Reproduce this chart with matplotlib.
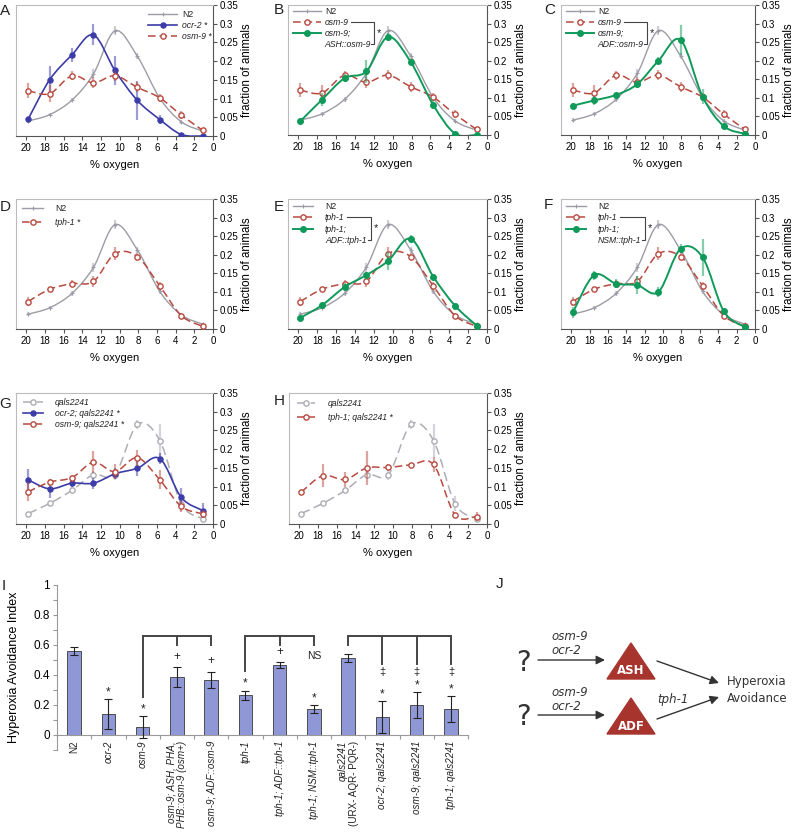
import numpy as np
import matplotlib
matplotlib.use('Agg')
import matplotlib.pyplot as plt
from matplotlib import font_manager
from matplotlib.path import Path
from matplotlib.patches import PathPatch, Polygon
from matplotlib.transforms import blended_transform_factory

W, H = 795, 833
plt.rcParams['font.family'] = ['Liberation Sans', 'DejaVu Sans']
plt.rcParams['text.color'] = '#222222'

installed = {f.name for f in font_manager.fontManager.ttflist}
if 'Liberation Sans Narrow' in installed:
    LEGFONT, LEGSIZE = 'Liberation Sans Narrow', 7.5
else:
    LEGFONT, LEGSIZE = 'Liberation Sans', 6.2

# % oxygen bins
o2 = [19.8, 17.5, 15.1, 12.8, 10.5, 8.1, 5.7, 3.4, 1.1]

n2 = [0.040, 0.057, 0.096, 0.166, 0.281, 0.213, 0.101, 0.038, 0.013]
n2_err = [0.005, 0.004, 0.006, 0.012, 0.012, 0.008, 0.006, 0.005, 0.004]
ocr2 = [0.045, 0.150, 0.217, 0.270, 0.175, 0.095, 0.044, 0.004, 0.0]
ocr2_err = [0.006, 0.038, 0.018, 0.028, 0.040, 0.052, 0.012, 0.003, 0.002]
osm9 = [0.121, 0.113, 0.161, 0.142, 0.161, 0.130, 0.102, 0.056, 0.015]
osm9_err = [0.020, 0.022, 0.012, 0.015, 0.013, 0.013, 0.010, 0.010, 0.004]
osm9_ash = [0.037, 0.095, 0.153, 0.171, 0.264, 0.197, 0.081, 0.004, 0.0]
osm9_ash_err = [0.004, 0.018, 0.010, 0.030, 0.010, 0.008, 0.012, 0.003, 0.002]
osm9_adf = [0.079, 0.093, 0.108, 0.137, 0.200, 0.256, 0.103, 0.024, 0.003]
osm9_adf_err = [0.006, 0.012, 0.006, 0.010, 0.010, 0.040, 0.020, 0.004, 0.002]
tph1 = [0.074, 0.107, 0.122, 0.128, 0.203, 0.195, 0.116, 0.036, 0.007]
tph1_err = [0.012, 0.005, 0.010, 0.015, 0.018, 0.010, 0.010, 0.004, 0.003]
tph1_adf = [0.030, 0.064, 0.113, 0.145, 0.183, 0.243, 0.141, 0.063, 0.009]
tph1_adf_err = [0.005, 0.006, 0.010, 0.008, 0.025, 0.010, 0.006, 0.004, 0.003]
tph1_nsm = [0.045, 0.145, 0.122, 0.118, 0.100, 0.216, 0.193, 0.048, 0.005]
tph1_nsm_err = [0.015, 0.012, 0.012, 0.025, 0.013, 0.012, 0.050, 0.008, 0.003]
qals = [0.028, 0.055, 0.090, 0.132, 0.132, 0.266, 0.223, 0.054, 0.014]
qals_err = [0.004, 0.005, 0.008, 0.010, 0.015, 0.012, 0.045, 0.020, 0.005]
ocr2_qals = [0.118, 0.094, 0.109, 0.109, 0.134, 0.149, 0.175, 0.071, 0.036]
ocr2_qals_err = [0.030, 0.025, 0.010, 0.015, 0.015, 0.020, 0.015, 0.025, 0.020]
osm9_qals = [0.086, 0.112, 0.124, 0.165, 0.140, 0.177, 0.118, 0.047, 0.027]
osm9_qals_err = [0.025, 0.008, 0.008, 0.030, 0.020, 0.022, 0.025, 0.015, 0.010]
tph1_qals = [0.085, 0.129, 0.119, 0.150, 0.151, 0.158, 0.159, 0.024, 0.020]
tph1_qals_err = [0.005, 0.030, 0.020, 0.045, 0.008, 0.006, 0.020, 0.005, 0.012]

# panel I
bar_names = ['N2', 'ocr-2', 'osm-9', 'osm-9; ASH, PHA,\nPHB::osm-9 (osm+)',
             'osm-9; ADF::osm-9', 'tph-1', 'tph-1; ADF::tph-1', 'tph-1; NSM::tph-1',
             'qals2241\n(URX- AQR- PQR-)', 'ocr-2; qals2241', 'osm-9; qals2241',
             'tph-1; qals2241']
bar_vals = [0.556, 0.139, 0.053, 0.384, 0.364, 0.265, 0.464, 0.172, 0.510, 0.119, 0.200, 0.172]
bar_errs = [0.027, 0.097, 0.070, 0.065, 0.055, 0.030, 0.020, 0.025, 0.025, 0.105, 0.087, 0.085]
bar_star = ['', '*', '*', '', '', '*', '', '*', '', '*', '*', '*']
bar_vs_parent = ['', '', '', '+', '+', '', '+', 'NS', '', '\u2021', '\u2021', '\u2021']
brackets = [(2, [3, 4]), (5, [6, 7]), (8, [9, 10, 11])]

N2 = dict(c='#9c9ca6', lw=1.0, ls='-', m='+', ms=3.5, mfc='#9c9ca6', mew=0.8, z=2)
BLUE = dict(c='#3c3ca8', lw=1.2, ls='-', m='o', ms=3.8, mfc='#3c3ca8', mew=0.8, z=3)
RED = dict(c='#b84a40', lw=1.1, ls=(0, (5, 2.5)), m='o', ms=3.8, mfc='white', mew=1.0, z=4)
GREEN = dict(c='#0f9a5a', lw=1.4, ls='-', m='o', ms=4.2, mfc='#0f9a5a', mew=0.8, z=5)
QALS = dict(c='#adadb5', lw=1.1, ls=(0, (6, 3)), m='o', ms=3.8, mfc='white', mew=1.0, z=2)

fig = plt.figure(figsize=(W / 100, H / 100), dpi=100)


def box(l, t, r, b):
    return [l / W, 1 - b / H, (r - l) / W, (b - t) / H]


def smooth(ax, x, y, **kw):
    # excel-like smoothed line through the points (bezier segments)
    pts = np.column_stack([x, y]).astype(float)
    n = len(pts)
    verts = [pts[0]]
    codes = [Path.MOVETO]
    for i in range(n - 1):
        p0 = pts[max(i - 1, 0)]
        p1, p2 = pts[i], pts[i + 1]
        p3 = pts[min(i + 2, n - 1)]
        verts += [p1 + (p2 - p0) / 6, p2 - (p3 - p1) / 6, p2]
        codes += [Path.CURVE4] * 3
    ax.add_patch(PathPatch(Path(verts, codes), fill=False, **kw))


def series(ax, y, err, st):
    smooth(ax, o2, y, edgecolor=st['c'], lw=st['lw'], linestyle=st['ls'], zorder=st['z'])
    ax.errorbar(o2, y, yerr=err, fmt='none', ecolor=st['c'], alpha=0.5,
                elinewidth=1.6, capsize=0, zorder=st['z'])
    ax.plot(o2, y, linestyle='none', marker=st['m'], ms=st['ms'], mfc=st['mfc'],
            mec=st['c'], mew=st['mew'], zorder=st['z'] + 0.5)


def line_panel(b):
    ax = fig.add_axes(box(*b))
    ax.set_xlim(21.1, 0)
    ax.set_ylim(0, 0.35)
    ax.set_xticks(range(0, 21, 2))
    ax.set_xticklabels([str(v) for v in range(0, 21, 2)])
    yt = [0, 0.05, 0.1, 0.15, 0.2, 0.25, 0.3, 0.35]
    ax.set_yticks(yt)
    ax.set_yticklabels(['0', '0.05', '0.1', '0.15', '0.2', '0.25', '0.3', '0.35'])
    ax.yaxis.tick_right()
    ax.yaxis.set_label_position('right')
    ax.set_ylabel('fraction of animals', fontsize=8.3, labelpad=2)
    ax.set_xlabel('% oxygen', fontsize=8, labelpad=5)
    ax.tick_params(labelsize=7, length=3, width=0.8, color='#555555', pad=2)
    for s in ['left', 'top']:
        ax.spines[s].set_color('#bbbbbb')
        ax.spines[s].set_linewidth(0.8)
    for s in ['bottom', 'right']:
        ax.spines[s].set_color('#555555')
        ax.spines[s].set_linewidth(0.8)
    return ax


axA = line_panel((16, 5, 213, 136))
series(axA, n2, n2_err, N2)
series(axA, osm9, osm9_err, RED)
series(axA, ocr2, ocr2_err, BLUE)

axB = line_panel((288, 5, 487, 135))
series(axB, n2, n2_err, N2)
series(axB, osm9, osm9_err, RED)
series(axB, osm9_ash, osm9_ash_err, GREEN)

axC = line_panel((561, 5, 755, 135))
series(axC, n2, n2_err, N2)
series(axC, osm9, osm9_err, RED)
series(axC, osm9_adf, osm9_adf_err, GREEN)

axD = line_panel((16, 199, 213, 329))
series(axD, n2, n2_err, N2)
series(axD, tph1, tph1_err, RED)

axE = line_panel((288, 199, 487, 329))
series(axE, n2, n2_err, N2)
series(axE, tph1, tph1_err, RED)
series(axE, tph1_adf, tph1_adf_err, GREEN)

axF = line_panel((561, 199, 755, 329))
series(axF, n2, n2_err, N2)
series(axF, tph1, tph1_err, RED)
series(axF, tph1_nsm, tph1_nsm_err, GREEN)

axG = line_panel((16, 393, 213, 524))
series(axG, qals, qals_err, QALS)
series(axG, ocr2_qals, ocr2_qals_err, BLUE)
series(axG, osm9_qals, osm9_qals_err, RED)

axH = line_panel((289, 393, 487, 524))
series(axH, qals, qals_err, QALS)
series(axH, tph1_qals, tph1_qals_err, RED)

# bar chart (I)
axI = fig.add_axes(box(57, 584.5, 468, 750))
xs = np.arange(len(bar_names))
axI.bar(xs, bar_vals, width=0.4, color='#8f97d6', edgecolor='#3a3a3a', lw=0.6, zorder=2)
axI.errorbar(xs, bar_vals, yerr=bar_errs, fmt='none', ecolor='#222222',
             elinewidth=0.8, capsize=3, capthick=0.8, zorder=3)
axI.set_xlim(-0.5, 11.5)
axI.set_ylim(-0.1, 1.0)
axI.spines['top'].set_visible(False)
axI.spines['right'].set_visible(False)
axI.spines['bottom'].set_position(('data', 0))
axI.spines['bottom'].set_color('#999999')
axI.spines['left'].set_color('#999999')
axI.set_yticks(np.arange(-0.1, 1.01, 0.1))
axI.set_yticklabels(['', '0', '', '0.2', '', '0.4', '', '0.6', '', '0.8', '', '1'])
axI.set_xticks(np.arange(-0.5, 11.6, 1))
axI.set_xticklabels([])
axI.tick_params(axis='both', length=3, color='#999999', labelsize=8.5, pad=2)
axI.set_ylabel('Hyperoxia Avoidance Index', fontsize=9)
axI.yaxis.set_label_coords(-0.09, 0.5)

tr = blended_transform_factory(axI.transData, axI.transData)
for i, name in enumerate(bar_names):
    lines = name.split('\n')
    offs = [0.0] if len(lines) == 1 else [-0.16, 0.16]
    for ln, dx in zip(lines, offs):
        st = 'normal' if (ln == 'N2' or ln.startswith('(')) else 'italic'
        axI.text(i + dx, -0.04, ln, rotation=90, ha='center', va='top',
                 fontsize=7.1, style=st, transform=tr)

for i in range(len(xs)):
    top = bar_vals[i] + bar_errs[i]
    if bar_star[i]:
        axI.text(i, top + 0.045, '*', ha='center', va='center', fontsize=8.5)
    mk = bar_vs_parent[i]
    if mk == '+':
        axI.text(i, top + 0.07, '+', ha='center', va='center', fontsize=8.5)
    elif mk == 'NS':
        axI.text(i, 0.525, 'NS', ha='center', va='center', fontsize=7.5)
    elif mk:
        axI.text(i, 0.42, mk, ha='center', va='center', fontsize=8)

for parent, kids in brackets:
    yb = 0.658
    axI.plot([parent, kids[-1]], [yb, yb], color='#444444', lw=1.4, solid_capstyle='butt')
    ptop = bar_vals[parent] + bar_errs[parent]
    pend = 0.6 if ptop > 0.45 else ptop + 0.13
    axI.plot([parent, parent], [yb, pend], color='#444444', lw=1.4)
    for k in kids:
        kend = 0.47 if bar_vs_parent[k] == '\u2021' else 0.6
        axI.plot([k, k], [yb, kend], color='#444444', lw=1.4)

# overlay in pixel coordinates: legends, letters, diagram J
ov = fig.add_axes([0, 0, 1, 1], zorder=10)
ov.set_xlim(0, W)
ov.set_ylim(H, 0)
ov.axis('off')
ov.patch.set_visible(False)


def leg(x0, x1, xt, y, st, text, style='italic'):
    ov.plot([x0, x1], [y, y], color=st['c'], lw=st['lw'], ls=st['ls'])
    ov.plot([(x0 + x1) / 2], [y], marker=st['m'], ms=st['ms'], mfc=st['mfc'],
            mec=st['c'], mew=st['mew'])
    return ov.text(xt, y, text, fontsize=LEGSIZE, style=style, va='center', ha='left',
                   family=LEGFONT)


pairs = []

leg(148, 177, 182, 14, N2, 'N2', 'normal')
leg(148, 177, 182, 25, BLUE, 'ocr-2 *')
leg(148, 177, 182, 36, RED, 'osm-9 *')

for dx, txt in [(0, 'ASH::osm-9'), (273, 'ADF::osm-9')]:
    leg(293 + dx, 321 + dx, 325 + dx, 11, N2, 'N2', 'normal')
    t1 = leg(293 + dx, 321 + dx, 325 + dx, 22, RED, 'osm-9')
    leg(293 + dx, 321 + dx, 325 + dx, 33, GREEN, 'osm-9;')
    t2 = ov.text(324 + dx, 44, txt, fontsize=LEGSIZE, style='italic', va='center',
                 ha='left', family=LEGFONT)
    pairs.append((t1, t2, 22, 44))

leg(22, 43, 55, 208, N2, 'N2', 'normal')
leg(22, 43, 55, 222, RED, 'tph-1 *')

for dx, txt in [(0, 'ADF::tph-1'), (273, 'NSM::tph-1')]:
    leg(293 + dx, 313 + dx, 325 + dx, 206, N2, 'N2', 'normal')
    t1 = leg(293 + dx, 313 + dx, 325 + dx, 217, RED, 'tph-1')
    leg(293 + dx, 313 + dx, 325 + dx, 229, GREEN, 'tph-1;')
    t2 = ov.text(325 + dx, 240, txt, fontsize=LEGSIZE, style='italic', va='center',
                 ha='left', family=LEGFONT)
    pairs.append((t1, t2, 217, 240))

leg(23, 43, 55, 402, QALS, 'qals2241')
leg(23, 43, 55, 413, BLUE, 'ocr-2; qals2241 *')
leg(23, 43, 55, 424, RED, 'osm-9; qals2241 *')

leg(297, 315, 328, 403, QALS, 'qals2241')
leg(297, 315, 328, 417, RED, 'tph-1; qals2241 *')

# brackets joining the two compared strains in the legends
renderer = fig.canvas.get_renderer()
for t1, t2, y1, y2 in pairs:
    xa = t1.get_window_extent(renderer).x1 + 2
    xb = t2.get_window_extent(renderer).x1 + 1
    xv = xb + 3
    ov.plot([xa, xv, xv, xb], [y1, y1, y2, y2], color='#444444', lw=0.8)
    ov.text(xv + 5, (y1 + y2) / 2, '*', fontsize=8, ha='center', va='center')

for lab, x, y in [('A', 5, 11), ('B', 279, 10), ('C', 550, 10), ('D', 5, 207),
                  ('E', 279, 207), ('F', 548, 205), ('G', 5, 404), ('H', 279, 401),
                  ('I', 4, 586), ('J', 500, 584)]:
    ov.text(x, y, lab, fontsize=11, ha='center', va='center')

# diagram J
red = '#a8342e'
ov.add_patch(Polygon([[607, 679], [655, 679], [631, 643]], closed=True, color=red))
ov.add_patch(Polygon([[607, 734], [655, 734], [631, 698]], closed=True, color=red))
ov.text(631, 671, 'ASH', color='white', fontsize=8.5, fontweight='bold',
        ha='center', va='center', family='DejaVu Sans')
ov.text(631, 726, 'ADF', color='white', fontsize=8.5, fontweight='bold',
        ha='center', va='center', family='DejaVu Sans')
for y in [663, 717]:
    ov.text(523, y, '?', fontsize=20, ha='center', va='center', color='#333333',
            family='DejaVu Sans')
ap = dict(arrowstyle='-|>', color='#333333', lw=1.0, mutation_scale=13, shrinkA=0, shrinkB=0)
ov.annotate('', xy=(605, 660), xytext=(538, 660), arrowprops=ap)
ov.annotate('', xy=(605, 715), xytext=(538, 715), arrowprops=ap)
ov.annotate('', xy=(719, 683), xytext=(657, 661), arrowprops=ap)
ov.annotate('', xy=(719, 697), xytext=(657, 719), arrowprops=ap)
for y, t in [(637, 'osm-9'), (651, 'ocr-2'), (692, 'osm-9'), (707, 'ocr-2')]:
    ov.text(551, y, t, fontsize=8.5, style='italic', ha='left', va='center',
            family='DejaVu Sans', color='#333333')
ov.text(657, 700, 'tph-1', fontsize=8.5, style='italic', ha='left', va='center',
        family='DejaVu Sans', color='#333333')
ov.text(727, 681, 'Hyperoxia', fontsize=8.5, ha='left', va='center',
        family='DejaVu Sans', color='#333333')
ov.text(727, 698, 'Avoidance', fontsize=8.5, ha='left', va='center',
        family='DejaVu Sans', color='#333333')

fig.savefig('out.png', dpi=100)
